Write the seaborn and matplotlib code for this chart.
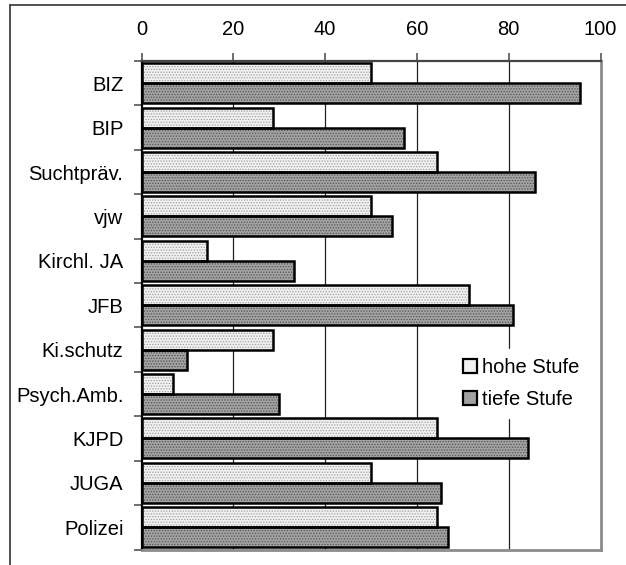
import matplotlib
matplotlib.use("Agg")
import matplotlib.pyplot as plt
from matplotlib.patches import Rectangle, Patch
from matplotlib.lines import Line2D
import numpy as np
import pandas as pd
import seaborn as sns

# Anteil (%) je Stelle, getrennt nach Stufe
categories = ["BIZ", "BIP", "Suchtpräv.", "vjw", "Kirchl. JA", "JFB",
              "Ki.schutz", "Psych.Amb.", "KJPD", "JUGA", "Polizei"]
hohe_stufe = [50.0, 28.6, 64.3, 50.0, 14.3, 71.4, 28.6, 6.9, 64.3, 50.0, 64.3]
tiefe_stufe = [95.5, 57.1, 85.7, 54.6, 33.3, 81.0, 10.0, 30.0, 84.3, 65.2, 66.8]
series = ["hohe Stufe", "tiefe Stufe"]
x_ticks = [0, 20, 40, 60, 80, 100]

df = pd.DataFrame({
    "Stelle": categories * 2,
    "Wert": hohe_stufe + tiefe_stufe,
    "Stufe": [series[0]] * len(categories) + [series[1]] * len(categories),
})

sns.set_style("white")
plt.rcParams["font.family"] = ["Liberation Sans", "DejaVu Sans"]
plt.rcParams["hatch.linewidth"] = 0.6
plt.rcParams["text.color"] = "black"
plt.rcParams["xtick.labelcolor"] = "black"
plt.rcParams["ytick.labelcolor"] = "black"

light_fc, dark_fc = "#f0f0f0", "#a2a2a2"
light_hatch, dark_hatch = "#a0a0a0", "#555555"
fs = 14.5

fig = plt.figure(figsize=(6.26, 5.65), dpi=100)
ax = fig.add_axes([141.5 / 626, 1 - 549.5 / 565, 459 / 626, 488.5 / 565])

sns.barplot(data=df, x="Wert", y="Stelle", hue="Stufe", orient="h",
            palette=[light_fc, dark_fc], width=0.9, errorbar=None,
            legend=False, ax=ax, zorder=2)

# Muster in den Balken, darüber die schwarzen Umrisse
for bar in list(ax.patches):
    is_light = np.allclose(bar.get_facecolor()[:3],
                           matplotlib.colors.to_rgb(light_fc), atol=0.02)
    bar.set_hatch("......")
    bar.set_edgecolor(light_hatch if is_light else dark_hatch)
    bar.set_linewidth(0)
    ax.add_patch(Rectangle(bar.get_xy(), bar.get_width(), bar.get_height(),
                           fill=False, edgecolor="black", linewidth=1.8,
                           zorder=3))

ax.set_xlim(0, 100)
ax.set_ylim(len(categories) - 0.5, -0.5)
ax.set_xlabel("")
ax.set_ylabel("")

# vertikale Gitterlinien
for xv in x_ticks[1:-1]:
    ax.axvline(xv, color="#222222", linewidth=0.9, zorder=1)

ax.xaxis.tick_top()
ax.set_xticks(x_ticks)
ax.set_xticklabels([str(t) for t in x_ticks])
ax.tick_params(axis="x", which="major", direction="out", length=6,
               width=1.2, color="#555555", pad=10, labelsize=fs,
               labelcolor="black", top=True, bottom=False)

ax.set_yticks(np.arange(-0.5, len(categories), 1.0))
ax.set_yticklabels([])
ax.set_yticks(np.arange(len(categories)), minor=True)
ax.set_yticklabels(categories, minor=True)
ax.tick_params(axis="y", which="major", direction="out", length=6,
               width=1.2, color="#555555", left=True)
ax.tick_params(axis="y", which="minor", length=0, pad=13, labelsize=fs,
               labelcolor="black")

for side in ["top", "left"]:
    ax.spines[side].set_color("#444444")
    ax.spines[side].set_linewidth(1.6)
for side in ["right", "bottom"]:
    ax.spines[side].set_color("#8c8c8c")
    ax.spines[side].set_linewidth(2.0)
ax.spines["left"].set_color("#000000")

handles = [Patch(facecolor=light_fc, edgecolor="black", linewidth=1.6),
           Patch(facecolor=dark_fc, edgecolor="black", linewidth=1.6)]
leg = ax.legend(handles, series, loc="upper left",
                bbox_to_anchor=(0.68, 0.41), borderaxespad=0,
                frameon=True, fancybox=False, framealpha=1,
                facecolor="white", edgecolor="white", fontsize=fs,
                handlelength=0.7, handleheight=0.7, handletextpad=0.25,
                labelspacing=0.62, borderpad=0.45)
leg.set_zorder(5)

# Rahmen oben und links
fig.add_artist(Line2D([10 / 626, 1], [1 - 5 / 565, 1 - 5 / 565],
                      transform=fig.transFigure, color="#333333",
                      linewidth=1.2))
fig.add_artist(Line2D([10 / 626, 10 / 626], [0, 1 - 5 / 565],
                      transform=fig.transFigure, color="#333333",
                      linewidth=1.2))

fig.savefig("out.png", dpi=100)
